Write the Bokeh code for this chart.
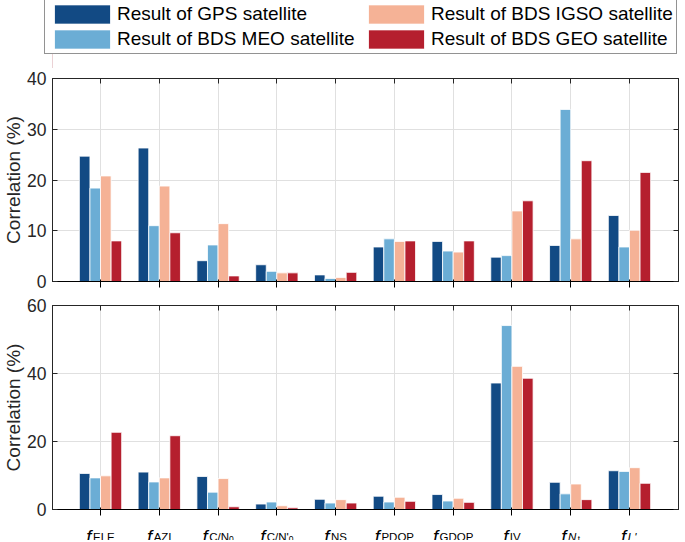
from bokeh.plotting import figure
from bokeh.models import (ColumnDataSource, FixedTicker, LinearAxis, Range1d,
                          Legend, LegendItem, CustomJSTickFormatter, CDSView, IndexFilter)
from bokeh.core.properties import value
from bokeh.transform import dodge
from bokeh.layouts import column
from bokeh.embed import file_html
from bokeh.resources import INLINE

# ---------------- data ----------------
categories = [1, 2, 3, 4, 5, 6, 7, 8, 9, 10]
feature_names = ["ELE", "AZI", "C/N", "C/N'", "NS", "PDOP", "GDOP", "IV", "N", "L'"]
feature_subs = ["", "", "0", "0", "", "", "", "", "t", ""]
feature_italic = [False, False, False, False, False, False, False, False, True, True]

series_names = ["Result of GPS satellite", "Result of BDS MEO satellite",
                "Result of BDS IGSO satellite", "Result of BDS GEO satellite"]
series_keys = ["gps", "meo", "igso", "geo"]
series_colors = ["#124a84", "#6badd5", "#f5b296", "#b51f2e"]

gps_top = [24.7, 26.3, 4.1, 3.3, 1.3, 6.8, 7.9, 4.8, 7.1, 13.0]
meo_top = [18.4, 11.0, 7.2, 2.0, 0.6, 8.4, 6.0, 5.1, 33.9, 6.8]
igso_top = [20.8, 18.8, 11.4, 1.7, 0.8, 7.9, 5.8, 13.9, 8.4, 10.1]
geo_top = [8.0, 9.6, 1.1, 1.7, 1.8, 8.0, 8.0, 15.9, 23.8, 21.5]

gps_bot = [10.6, 11.0, 9.7, 1.6, 3.0, 3.9, 4.4, 37.2, 8.0, 11.4]
meo_bot = [9.3, 8.1, 5.1, 2.2, 1.9, 2.2, 2.5, 54.1, 4.6, 11.2]
igso_bot = [9.9, 9.3, 9.1, 1.1, 2.9, 3.6, 3.3, 42.1, 7.5, 12.3]
geo_bot = [22.7, 21.7, 0.8, 0.5, 1.9, 2.4, 2.1, 38.6, 2.9, 7.7]

top_yticks = [0, 10, 20, 30, 40]
bot_yticks = [0, 20, 40, 60]

# ---------------- styling ----------------
FONT = "Liberation Sans"
AX = "#262626"
GRID = "#e0e0e0"
BAR_W = 0.18
OFFSETS = [-0.27, -0.09, 0.09, 0.27]
X_LO, X_HI = 0.183, 10.834
FRAME_W = 626
LEFT_B = 52
RIGHT_B = 4
TOTAL_W = LEFT_B + FRAME_W + RIGHT_B

empty_fmt = CustomJSTickFormatter(code="return ''")


def make_fig(src, ymax, yticks, frame_h, top_border, bottom_border):
    p = figure(frame_width=FRAME_W, frame_height=frame_h,
               x_range=Range1d(X_LO, X_HI), y_range=Range1d(0, ymax),
               output_backend="svg", toolbar_location=None,
               min_border_left=LEFT_B, min_border_right=RIGHT_B,
               min_border_top=top_border, min_border_bottom=bottom_border,
               background_fill_color="white", border_fill_color="white")
    p.outline_line_color = AX
    p.outline_line_width = 1
    for key, off, col in zip(series_keys, OFFSETS, series_colors):
        p.vbar(x=dodge("x", off, range=p.x_range), top=key, width=BAR_W,
               source=src, fill_color=col, line_color="white", line_width=0.8)
    for ax in p.xaxis:
        ax.ticker = FixedTicker(ticks=categories)
        ax.formatter = empty_fmt
    for ax in p.yaxis:
        ax.ticker = FixedTicker(ticks=yticks)
        ax.axis_label = "Correlation (%)"
        ax.axis_label_text_font = FONT
        ax.axis_label_text_font_size = "19px"
        ax.axis_label_text_font_style = "normal"
        ax.axis_label_text_color = AX
        ax.axis_label_standoff = 0
        ax.major_label_text_font = FONT
        ax.major_label_text_font_size = "17.5px"
        ax.major_label_text_color = AX
        ax.major_label_standoff = 6
    ax_top = LinearAxis(ticker=FixedTicker(ticks=categories), formatter=empty_fmt)
    ax_right = LinearAxis(ticker=FixedTicker(ticks=yticks), formatter=empty_fmt)
    p.add_layout(ax_top, "above")
    p.add_layout(ax_right, "right")
    for ax in [p.xaxis[0], p.yaxis[0], ax_top, ax_right]:
        ax.axis_line_color = AX
        ax.major_tick_line_color = AX
        ax.major_tick_in = 5
        ax.major_tick_out = 0
        ax.minor_tick_line_color = None
    for ax in [p.xaxis[0], ax_right, ax_top]:
        ax.major_label_standoff = 0
    p.xgrid.ticker = FixedTicker(ticks=categories)
    p.ygrid.ticker = FixedTicker(ticks=yticks)
    for g in [p.xgrid[0], p.ygrid[0]]:
        g.grid_line_color = GRID
        g.grid_line_width = 1
    return p


src_top = ColumnDataSource(dict(x=categories, gps=gps_top, meo=meo_top, igso=igso_top, geo=geo_top))
src_bot = ColumnDataSource(dict(x=categories, gps=gps_bot, meo=meo_bot, igso=igso_bot, geo=geo_bot))

p1 = make_fig(src_top, 40, top_yticks, 203, 10, 12)
p2 = make_fig(src_bot, 60, bot_yticks, 204, 12, 10)

# ---------------- legend strip ----------------
LEG_H = 68
p0 = figure(frame_width=TOTAL_W, frame_height=LEG_H, x_range=Range1d(0, 1), y_range=Range1d(0, 1),
            output_backend="svg", toolbar_location=None,
            min_border_left=0, min_border_right=0, min_border_top=0, min_border_bottom=0,
            background_fill_color="white", border_fill_color="white")
p0.outline_line_color = None
p0.xaxis.visible = False
p0.yaxis.visible = False
p0.grid.visible = False
# swatch-only renderers (their single bar lies outside the visible range)
swatch_src = ColumnDataSource(dict(x=[-5.0], top=[1.0]))
leg_rs = [p0.vbar(x="x", top="top", width=0.1, source=swatch_src, fill_color=c,
                  line_color="white", line_width=0.8)
          for c in series_colors]
legend = Legend(items=[LegendItem(label=n, renderers=[r]) for n, r in zip(series_names, leg_rs)],
                location=(44, 14), ncols=2, orientation="vertical",
                glyph_width=70, glyph_height=24, label_standoff=0, label_width=243,
                spacing=1, padding=2, margin=0,
                label_text_font=FONT, label_text_font_size="19px", label_text_color="black",
                border_line_color=AX, border_line_width=1,
                background_fill_color="white", background_fill_alpha=1.0)
p0.add_layout(legend, "center")

# ---------------- x tick labels (italic f with subscripts) ----------------
LAB_H = 21
p3 = figure(frame_width=FRAME_W, frame_height=LAB_H, x_range=p2.x_range, y_range=Range1d(0, LAB_H),
            output_backend="svg", toolbar_location=None,
            min_border_left=LEFT_B, min_border_right=RIGHT_B, min_border_top=0, min_border_bottom=0,
            background_fill_color="white", border_fill_color="white")
p3.outline_line_color = None
p3.xaxis.visible = False
p3.yaxis.visible = False
p3.grid.visible = False

CW = {"E": 667, "L": 556, "A": 667, "Z": 611, "I": 278, "C": 722, "/": 278, "N": 722,
      "S": 667, "P": 667, "D": 722, "O": 778, "G": 778, "V": 667, "t": 278, "'": 191, "0": 556}


def tw(s, size):
    return sum(CW.get(c, 556) for c in s) * size / 1000.0


F_SIZE, S_SIZE, SS_SIZE = 18.5, 11.5, 8.5
F_BASE, S_BASE, SS_BASE = 4.1, 3.5, 2.0   # baselines, px above the bottom of the label strip
f_off, n_off, s_off = [], [], []
for name, sub, ital in zip(feature_names, feature_subs, feature_italic):
    f_adv = 0.36 * F_SIZE
    w_name = tw(name, S_SIZE) + (1.5 if ital else 0)
    w_sub = tw(sub, SS_SIZE)
    left = -(f_adv + w_name + w_sub) / 2.0
    f_off.append(left)
    n_off.append(left + f_adv)
    s_off.append(left + f_adv + w_name)

n = len(categories)
lab_src = ColumnDataSource(dict(x=categories, f=["f"] * n, name=feature_names, sub=feature_subs,
                                f_off=f_off, n_off=n_off, s_off=s_off,
                                fy=[F_BASE] * n, ny=[S_BASE] * n, sy=[SS_BASE] * n))
common = dict(source=lab_src, text_font=value(FONT), text_color="black",
              text_align="left", text_baseline="alphabetic")
p3.text(x="x", y="fy", text="f", x_offset="f_off", text_font_style="italic",
        text_font_size=f"{F_SIZE}px", **common)
norm_idx = [i for i in range(n) if not feature_italic[i]]
ital_idx = [i for i in range(n) if feature_italic[i]]
sub_idx = [i for i in range(n) if feature_subs[i]]
p3.text(x="x", y="ny", text="name", x_offset="n_off", text_font_style="normal",
        text_font_size=f"{S_SIZE}px", view=CDSView(filter=IndexFilter(norm_idx)), **common)
p3.text(x="x", y="ny", text="name", x_offset="n_off", text_font_style="italic",
        text_font_size=f"{S_SIZE}px", view=CDSView(filter=IndexFilter(ital_idx)), **common)
p3.text(x="x", y="sy", text="sub", x_offset="s_off", text_font_style="normal",
        text_font_size=f"{SS_SIZE}px", view=CDSView(filter=IndexFilter(sub_idx)), **common)

layout = column(p0, p1, p2, p3, spacing=0)
open("out.html", "w").write(file_html(layout, INLINE))
